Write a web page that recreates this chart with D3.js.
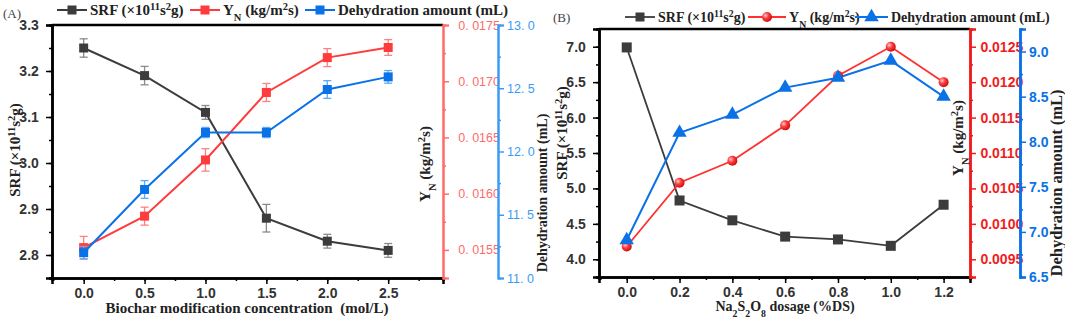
<!DOCTYPE html>
<html>
<head>
<meta charset="utf-8">
<script src="https://cdn.jsdelivr.net/npm/d3@7"></script>
<style>
  body { margin: 0; background: #fff; }
  svg { font-family: "Liberation Serif", "Times New Roman", serif; }
</style>
</head>
<body>
<svg id="chart" width="1065" height="322"></svg>
<script>
// ---- panel A data ----
var concA = [0, 0.5, 1.0, 1.5, 2.0, 2.5];
var srfA = [3.25, 3.19, 3.11, 2.88, 2.83, 2.81];
var srfErrA = [0.02, 0.02, 0.015, 0.03, 0.015, 0.015];
var ynA = [0.01552, 0.01580, 0.01630, 0.01690, 0.01721, 0.01730];
var ynErrA = [0.0001, 0.00008, 0.0001, 0.00008, 0.00008, 0.00007];
var dehA = [11.20, 11.70, 12.15, 12.15, 12.49, 12.59];
var dehErrA = [0.05, 0.07, 0.04, 0.04, 0.07, 0.05];

// ---- panel B data ----
var doseB = [0, 0.2, 0.4, 0.6, 0.8, 1.0, 1.2];
var srfB = [6.99, 4.83, 4.55, 4.32, 4.28, 4.19, 4.77];
var ynB = [0.00968, 0.01058, 0.01089, 0.01139, 0.01209, 0.01250, 0.01200];
var dehB = [6.91, 8.10, 8.30, 8.60, 8.71, 8.90, 8.50];

var svg = d3.select("#chart");

var defs = svg.append("defs");
var grad = defs.append("radialGradient").attr("id", "ball")
  .attr("cx", "35%").attr("cy", "35%").attr("r", "65%");
grad.append("stop").attr("offset", "0%").attr("stop-color", "#ffd0d0");
grad.append("stop").attr("offset", "45%").attr("stop-color", "#ff4040");
grad.append("stop").attr("offset", "100%").attr("stop-color", "#d01010");

// helper: label with sub/superscripts, parts = [[text, "sup"|"sub"|null], ...]
function richText(sel, parts) {
  parts.forEach(function(p) {
    var t = sel.append("tspan").text(p[0]);
    if (p[1] === "sup") t.attr("baseline-shift", "super").attr("font-size", "70%");
    if (p[1] === "sub") t.attr("baseline-shift", "sub").attr("font-size", "70%");
  });
  return sel;
}
var srfLabel = [["SRF (×10", null], ["11", "sup"], ["s", null], ["2", "sup"], ["g)", null]];
var ynLabel = [["Y", null], ["N", "sub"], [" (kg/m", null], ["2", "sup"], ["s)", null]];

function minorAxis(g, axisFn, scale, vals, size) {
  g.call(axisFn(scale).tickValues(vals).tickSize(size).tickFormat(""));
}

function styleAxis(g, color, width) {
  g.selectAll("path.domain").attr("stroke", color).attr("stroke-width", width);
  g.selectAll(".tick line").attr("stroke", color).attr("stroke-width", 1.5);
  g.selectAll(".tick text").attr("fill", color);
}

function range(a, b, s) {
  var out = [];
  for (var v = a; v <= b + s / 1000; v += s) out.push(+v.toFixed(6));
  return out;
}

// ================= PANEL A =================
(function() {
  var L = 52, R = 443, T = 25, B = 278;
  var x = d3.scaleLinear().domain([-0.26, 2.95]).range([L, R]);
  var y1 = d3.scaleLinear().domain([2.75, 3.3]).range([B, T]);
  var y2 = d3.scaleLinear().domain([0.01525, 0.0175]).range([B, T]);
  var y3 = d3.scaleLinear().domain([11, 13]).range([B, T]);

  var g = svg.append("g");

  // top frame line
  g.append("line").attr("x1", L).attr("x2", R).attr("y1", T).attr("y2", T)
    .attr("stroke", "#000").attr("stroke-width", 2.5);

  // bottom axis
  var gx = g.append("g").attr("transform", "translate(0," + B + ")");
  minorAxis(gx.append("g"), d3.axisBottom, x, range(-0.25, 2.75, 0.25), 3);
  gx.append("g").call(d3.axisBottom(x).tickValues(concA).tickSize(6).tickFormat(d3.format(".1f")));
  gx.selectAll("path.domain").attr("stroke", "#000").attr("stroke-width", 2.5);
  gx.selectAll(".tick line").attr("stroke", "#000").attr("stroke-width", 1.5);
  gx.selectAll(".tick text").attr("fill", "#333").attr("font-size", 14).attr("font-weight", "bold").attr("y", 10);

  // left axis
  var gy = g.append("g").attr("transform", "translate(" + L + ",0)");
  minorAxis(gy.append("g"), d3.axisLeft, y1, range(2.75, 3.25, 0.05), 3);
  gy.append("g").call(d3.axisLeft(y1).tickValues(range(2.8, 3.3, 0.1)).tickSize(6).tickFormat(d3.format(".1f")));
  gy.selectAll("path.domain").attr("stroke", "#000").attr("stroke-width", 2.5);
  gy.selectAll(".tick line").attr("stroke", "#000").attr("stroke-width", 1.5);
  gy.selectAll(".tick text").attr("fill", "#333").attr("font-size", 14).attr("font-weight", "bold").attr("dx", "-0.3em");

  // red right axis
  var gr = g.append("g").attr("transform", "translate(" + R + ",0)");
  minorAxis(gr.append("g"), d3.axisRight, y2, range(0.01525, 0.01725, 0.0005), 3);
  gr.append("g").call(d3.axisRight(y2).tickValues(range(0.0155, 0.0175, 0.0005)).tickSize(6)
    .tickFormat(function(d) { return d.toFixed(4).replace(".", ". "); }));
  styleAxis(gr, "#ff6b6b", 2);
  gr.selectAll(".tick text").attr("font-size", 12.5).attr("xml:space", "preserve").attr("dx", "0.5em");

  // blue right axis
  var gb = g.append("g").attr("transform", "translate(498,0)");
  minorAxis(gb.append("g"), d3.axisRight, y3, range(11.25, 12.75, 0.5), 3);
  gb.append("g").call(d3.axisRight(y3).tickValues(range(11, 13, 0.5)).tickSize(6)
    .tickFormat(function(d) { return d.toFixed(1).replace(".", ". "); }));
  styleAxis(gb, "#3a9bf5", 2);
  gb.selectAll(".tick text").attr("font-size", 12.5).attr("xml:space", "preserve").attr("dx", "0em");

  // series
  function series(vals, errs, ys, color, errColor) {
    var pts = concA.map(function(c, i) { return { x: c, y: vals[i], e: errs[i] }; });
    var eg = g.append("g");
    pts.forEach(function(p) {
      var x0 = x(p.x), yt = ys(p.y + p.e), yb = ys(p.y - p.e);
      eg.append("line").attr("x1", x0).attr("x2", x0).attr("y1", yt).attr("y2", yb)
        .attr("stroke", errColor).attr("stroke-width", 1.3);
      [yt, yb].forEach(function(yy) {
        eg.append("line").attr("x1", x0 - 4).attr("x2", x0 + 4).attr("y1", yy).attr("y2", yy)
          .attr("stroke", errColor).attr("stroke-width", 1.3);
      });
    });
    g.append("path").datum(pts).attr("fill", "none").attr("stroke", color).attr("stroke-width", 2)
      .attr("d", d3.line().x(function(d) { return x(d.x); }).y(function(d) { return ys(d.y); }));
    g.append("g").selectAll("rect").data(pts).enter().append("rect")
      .attr("x", function(d) { return x(d.x) - 4.5; }).attr("y", function(d) { return ys(d.y) - 4.5; })
      .attr("width", 9).attr("height", 9).attr("fill", color);
  }
  series(srfA, srfErrA, y1, "#3c3c3c", "#8a8a8a");
  series(ynA, ynErrA, y2, "#ff3b3b", "#ff8080");
  series(dehA, dehErrA, y3, "#0a72e6", "#5aaaf5");

  // axis titles
  richText(g.append("text").attr("transform", "translate(20,150) rotate(-90)")
    .attr("text-anchor", "middle").attr("font-size", 15).attr("font-weight", "bold").attr("fill", "#222"), srfLabel);
  richText(g.append("text").attr("transform", "translate(430,164) rotate(-90)")
    .attr("text-anchor", "middle").attr("font-size", 15).attr("font-weight", "bold").attr("fill", "#222"), ynLabel);
  g.append("text").attr("transform", "translate(547,193) rotate(-90)")
    .attr("text-anchor", "middle").attr("font-size", 14).attr("font-weight", "bold").attr("fill", "#222")
    .text("Dehydration amount (mL)");
  g.append("text").attr("x", 247).attr("y", 313).attr("text-anchor", "middle")
    .attr("font-size", 15).attr("font-weight", "bold").attr("fill", "#222")
    .attr("xml:space", "preserve")
    .text("Biochar modification concentration  (mol/L)");

  g.append("text").attr("x", 3).attr("y", 18).attr("font-size", 13).attr("fill", "#444").text("(A)");

  // legend
  var leg = [
    { x: 57, color: "#3c3c3c", label: srfLabel },
    { x: 190, color: "#ff3b3b", label: ynLabel },
    { x: 305, color: "#0a72e6", label: [["Dehydration amount (mL)", null]] }
  ];
  leg.forEach(function(d) {
    g.append("line").attr("x1", d.x).attr("x2", d.x + 30).attr("y1", 10).attr("y2", 10)
      .attr("stroke", d.color).attr("stroke-width", 2);
    g.append("rect").attr("x", d.x + 10.5).attr("y", 5.5).attr("width", 9).attr("height", 9).attr("fill", d.color);
    richText(g.append("text").attr("x", d.x + 33).attr("y", 15).attr("font-size", 15)
      .attr("font-weight", "bold").attr("fill", "#222"), d.label);
  });
})();

// ================= PANEL B =================
(function() {
  var L = 599, R = 970, T = 29, B = 277;
  var x = d3.scaleLinear().domain([-0.105, 1.3]).range([L, R]);
  var y1 = d3.scaleLinear().domain([3.75, 7.25]).range([B, T]);
  var y2 = d3.scaleLinear().domain([0.00925, 0.01275]).range([B, T]);
  var y3 = d3.scaleLinear().domain([6.5, 9.25]).range([B, T]);

  var g = svg.append("g");

  g.append("line").attr("x1", L).attr("x2", R).attr("y1", T).attr("y2", T)
    .attr("stroke", "#000").attr("stroke-width", 2.5);

  var gx = g.append("g").attr("transform", "translate(0," + B + ")");
  minorAxis(gx.append("g"), d3.axisBottom, x, range(-0.1, 1.3, 0.1), 3);
  gx.append("g").call(d3.axisBottom(x).tickValues(doseB).tickSize(6).tickFormat(d3.format(".1f")));
  gx.selectAll("path.domain").attr("stroke", "#000").attr("stroke-width", 2.5);
  gx.selectAll(".tick line").attr("stroke", "#000").attr("stroke-width", 1.5);
  gx.selectAll(".tick text").attr("fill", "#333").attr("font-size", 14).attr("font-weight", "bold").attr("y", 10);

  var gy = g.append("g").attr("transform", "translate(" + L + ",0)");
  minorAxis(gy.append("g"), d3.axisLeft, y1, range(3.75, 7.25, 0.25), 3);
  gy.append("g").call(d3.axisLeft(y1).tickValues(range(4.0, 7.0, 0.5)).tickSize(6).tickFormat(d3.format(".1f")));
  gy.selectAll("path.domain").attr("stroke", "#000").attr("stroke-width", 2.5);
  gy.selectAll(".tick line").attr("stroke", "#000").attr("stroke-width", 1.5);
  gy.selectAll(".tick text").attr("fill", "#333").attr("font-size", 14).attr("font-weight", "bold").attr("dx", "-0.3em");

  var gr = g.append("g").attr("transform", "translate(" + R + ",0)");
  minorAxis(gr.append("g"), d3.axisRight, y2, range(0.00925, 0.01275, 0.0005), 3);
  gr.append("g").call(d3.axisRight(y2).tickValues(range(0.0095, 0.0125, 0.0005)).tickSize(6)
    .tickFormat(d3.format(".4f")));
  styleAxis(gr, "#f01c1c", 2.5);
  gr.selectAll(".tick text").attr("font-size", 14).attr("font-weight", "bold").attr("dx", "0.1em");

  var gb = g.append("g").attr("transform", "translate(1020,0)");
  minorAxis(gb.append("g"), d3.axisRight, y3, range(6.75, 9.25, 0.5), 3);
  gb.append("g").call(d3.axisRight(y3).tickValues(range(6.5, 9.0, 0.5)).tickSize(6)
    .tickFormat(d3.format(".1f")));
  styleAxis(gb, "#0a72e6", 2.5);
  gb.selectAll(".tick text").attr("font-size", 14).attr("font-weight", "bold").attr("dx", "0em");

  var line = function(ys) {
    return d3.line().x(function(d) { return x(d.x); }).y(function(d) { return ys(d.y); });
  };
  function pts(vals) { return doseB.map(function(c, i) { return { x: c, y: vals[i] }; }); }

  // SRF
  g.append("path").datum(pts(srfB)).attr("fill", "none").attr("stroke", "#3c3c3c").attr("stroke-width", 1.8)
    .attr("d", line(y1));
  // YN
  g.append("path").datum(pts(ynB)).attr("fill", "none").attr("stroke", "#ff3030").attr("stroke-width", 1.8)
    .attr("d", line(y2));
  // Dehydration
  g.append("path").datum(pts(dehB)).attr("fill", "none").attr("stroke", "#0a72e6").attr("stroke-width", 2)
    .attr("d", line(y3));

  g.append("g").selectAll("rect").data(pts(srfB)).enter().append("rect")
    .attr("x", function(d) { return x(d.x) - 5; }).attr("y", function(d) { return y1(d.y) - 5; })
    .attr("width", 10).attr("height", 10).attr("fill", "#3c3c3c");
  g.append("g").selectAll("circle").data(pts(ynB)).enter().append("circle")
    .attr("cx", function(d) { return x(d.x); }).attr("cy", function(d) { return y2(d.y); })
    .attr("r", 5).attr("fill", "url(#ball)");
  var tri = d3.symbol().type(d3.symbolTriangle).size(90);
  g.append("g").selectAll("path").data(pts(dehB)).enter().append("path")
    .attr("transform", function(d) { return "translate(" + x(d.x) + "," + y3(d.y) + ")"; })
    .attr("d", tri).attr("fill", "#0a72e6");

  // titles
  richText(g.append("text").attr("transform", "translate(567,133) rotate(-90)")
    .attr("text-anchor", "middle").attr("font-size", 15).attr("font-weight", "bold").attr("fill", "#222"), srfLabel);
  richText(g.append("text").attr("transform", "translate(963,138) rotate(-90)")
    .attr("text-anchor", "middle").attr("font-size", 15).attr("font-weight", "bold").attr("fill", "#222"), ynLabel);
  g.append("text").attr("transform", "translate(1062,183) rotate(-90)")
    .attr("text-anchor", "middle").attr("font-size", 16.5).attr("font-weight", "bold").attr("fill", "#222")
    .text("Dehydration amount (mL)");
  richText(g.append("text").attr("x", 785).attr("y", 311).attr("text-anchor", "middle")
    .attr("font-size", 14).attr("font-weight", "bold").attr("fill", "#222"),
    [["Na", null], ["2", "sub"], ["S", null], ["2", "sub"], ["O", null], ["8", "sub"], [" dosage (%DS)", null]]);

  g.append("text").attr("x", 553).attr("y", 22).attr("font-size", 13).attr("fill", "#444").text("(B)");

  // legend
  var ly = 17;
  g.append("line").attr("x1", 625).attr("x2", 655).attr("y1", ly).attr("y2", ly).attr("stroke", "#3c3c3c").attr("stroke-width", 1.8);
  g.append("rect").attr("x", 635.5).attr("y", ly - 4.5).attr("width", 9).attr("height", 9).attr("fill", "#3c3c3c");
  richText(g.append("text").attr("x", 658).attr("y", ly + 5).attr("font-size", 14).attr("font-weight", "bold").attr("fill", "#222"), srfLabel);

  g.append("line").attr("x1", 748).attr("x2", 786).attr("y1", ly).attr("y2", ly).attr("stroke", "#ff3030").attr("stroke-width", 1.8);
  g.append("circle").attr("cx", 767).attr("cy", ly).attr("r", 5).attr("fill", "url(#ball)");
  richText(g.append("text").attr("x", 789).attr("y", ly + 5).attr("font-size", 14).attr("font-weight", "bold").attr("fill", "#222"), ynLabel);

  g.append("line").attr("x1", 855).attr("x2", 888).attr("y1", ly).attr("y2", ly).attr("stroke", "#0a72e6").attr("stroke-width", 2);
  g.append("path").attr("transform", "translate(871.5," + ly + ")").attr("d", tri).attr("fill", "#0a72e6");
  g.append("text").attr("x", 891).attr("y", ly + 5).attr("font-size", 14).attr("font-weight", "bold").attr("fill", "#222")
    .text("Dehydration amount (mL)");
})();
</script>
</body>
</html>
